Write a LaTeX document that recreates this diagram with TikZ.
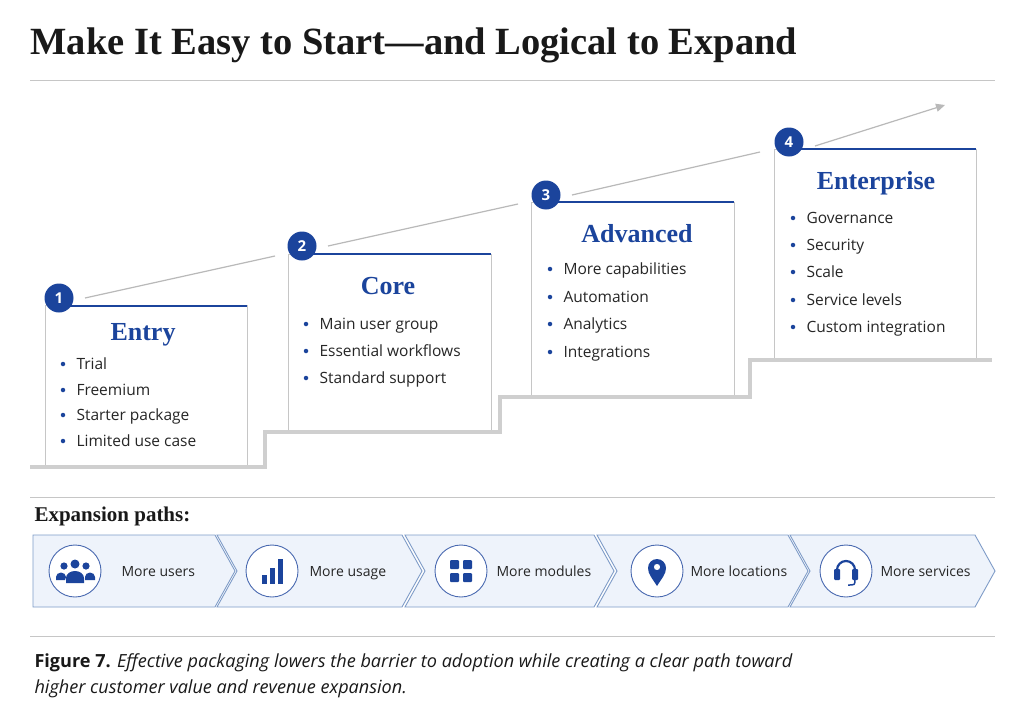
\documentclass[tikz,border=0pt]{standalone}
\usepackage{fontspec}
\setmainfont{Liberation Serif}
\setsansfont{Open Sans}
\usetikzlibrary{arrows.meta}
\definecolor{dblue}{HTML}{1B449C}
\definecolor{cfill}{HTML}{EEF3FB}
\definecolor{cline}{HTML}{7F9CC8}
\definecolor{gstair}{HTML}{CFCFCF}
\begin{document}
\begin{tikzpicture}[x=1pt,y=-1pt,
  box/.style={draw=gray!45,line width=0.8pt,fill=white},
  topbar/.style={dblue,line width=2.6pt},
  num/.style={circle,fill=dblue,text=white,minimum size=29pt,inner sep=0,font=\sffamily\bfseries\fontsize{15}{15}\selectfont},
  ttl/.style={text=dblue,font=\bfseries\fontsize{26}{26}\selectfont},
  itm/.style={anchor=base west,yshift=-5.5pt,font=\sffamily\fontsize{15.5}{16}\selectfont,text=black!85},
  dot/.style={circle,fill=dblue,inner sep=0,minimum size=4.5pt},
  trend/.style={gray!55,line width=1.2pt},
  chev/.style={draw=cline,fill=cfill,line width=0.9pt},
  icirc/.style={circle,draw=dblue!80,fill=white,line width=0.9pt,minimum size=52pt,inner sep=0},
  clab/.style={anchor=base west,yshift=-5pt,font=\sffamily\fontsize{14}{16}\selectfont,text=black!85},
  rule/.style={gray!45,line width=0.8pt}]
\useasboundingbox (0,0) rectangle (1024,725);
\fill[white] (0,0) rectangle (1024,725);
\node[anchor=west,font=\bfseries\fontsize{38.5}{38.5}\selectfont,text=black!90] (title) at (27,45) {Make It Easy to Start—and Logical to Expand};
\draw[rule] (30,80) -- (995,80);
% stairs
\draw[gstair,line width=4pt] (30,467) -- (265,467) -- (265,432) -- (500,432) -- (500,397) -- (750,397) -- (750,360) -- (992,360);
% boxes
\draw[box] (45,465) -- (45,305) -- (247,305) -- (247,465);
\draw[box] (288,430) -- (288,254) -- (491,254) -- (491,430);
\draw[box] (531,395) -- (531,202) -- (734,202) -- (734,395);
\draw[box] (774,358) -- (774,149) -- (976,149) -- (976,358);
\draw[topbar] (62,306) -- (247,306);
\draw[topbar] (305,254) -- (491,254);
\draw[topbar] (548,202) -- (734,202);
\draw[topbar] (791,149) -- (976,149);
\node[num] (n1) at (59,298) {1};
\node[num] (n2) at (302,246) {2};
\node[num] (n3) at (546,195) {3};
\node[num] (n4) at (789,142) {4};
\coordinate (e1) at (275,256);
\coordinate (e2) at (518,204);
\coordinate (e3) at (760,152);
\coordinate (e4) at (945,105);
\draw[trend] ([xshift=26pt]n1.center) -- (e1);
\draw[trend] ([xshift=26pt]n2.center) -- (e2);
\draw[trend] ([xshift=26pt]n3.center) -- (e3);
\draw[trend,-{Triangle[length=9pt,width=8pt]}] ([xshift=26pt,yshift=-4pt]n4.center) -- (e4);
\node[ttl] (t1) at (143,335) {Entry};
\node[ttl] (t2) at (388,286) {Core};
\node[ttl] (t3) at (637,234) {Advanced};
\node[ttl] (t4) at (876,183) {Enterprise};
\foreach \y/\s [count=\i] in {364/Trial,390/Freemium,415/Starter package,441/Limited use case}{
  \node[dot] (da\i) at (63,\y) {}; \node[itm] (ia\i) at (73,\y) {\s};}
\foreach \y/\s [count=\i] in {324/Main user group,351/Essential workflows,378/Standard support}{
  \node[dot] (db\i) at (306,\y) {}; \node[itm] (ib\i) at (316,\y) {\s};}
\foreach \y/\s [count=\i] in {269/More capabilities,297/Automation,324/Analytics,352/Integrations}{
  \node[dot] (dc\i) at (550,\y) {}; \node[itm] (ic\i) at (560,\y) {\s};}
\foreach \y/\s [count=\i] in {218/Governance,245/Security,272/Scale,300/Service levels,327/Custom integration}{
  \node[dot] (dd\i) at (793,\y) {}; \node[itm] (id\i) at (803,\y) {\s};}
\draw[rule] (30,497) -- (995,497);
\node[anchor=west,font=\bfseries\fontsize{21}{21}\selectfont,text=black!90] (ep) at (31,516) {Expansion paths:};
% chevrons
\draw[chev] (33,535) -- (215,535) -- (235,571) -- (215,607) -- (33,607) -- cycle;
\draw[chev] (217,535) -- (402,535) -- (422,571) -- (402,607) -- (217,607) -- (237,571) -- cycle;
\draw[chev] (405,535) -- (594,535) -- (614,571) -- (594,607) -- (405,607) -- (425,571) -- cycle;
\draw[chev] (597,535) -- (788,535) -- (808,571) -- (788,607) -- (597,607) -- (617,571) -- cycle;
\draw[chev] (790,535) -- (975,535) -- (995,571) -- (975,607) -- (790,607) -- (810,571) -- cycle;
\node[icirc] (c1) at (75,571) {};
\node[icirc] (c2) at (272,571) {};
\node[icirc] (c3) at (461,571) {};
\node[icirc] (c4) at (657,571) {};
\node[icirc] (c5) at (846,571) {};
\node[clab] (l1) at (118,571) {More users};
\node[clab] (l2) at (306,571) {More usage};
\node[clab] (l3) at (493,571) {More modules};
\node[clab] (l4) at (687,571) {More locations};
\node[clab] (l5) at (877,571) {More services};
% icons
\begin{scope}[fill=dblue]
 \fill (75,564) circle (4.5); \fill (64,566) circle (3.6); \fill (86,566) circle (3.6);
 \fill (66,583) -- (66,578) arc (180:360:9 and 7) -- (84,583) -- cycle;
 \fill (56,580) -- (56,577) arc (180:360:5 and 4.5) -- (65,580) -- cycle;
 \fill (85,580) -- (85,577) arc (180:360:5 and 4.5) -- (95,580) -- cycle;
 \fill (262,575) rectangle (267,584); \fill (270,568) rectangle (275,584); \fill (278,559) rectangle (283,584);
 \fill[rounded corners=1pt] (450,560) rectangle (459,569); \fill[rounded corners=1pt] (463,560) rectangle (472,569);
 \fill[rounded corners=1pt] (450,573) rectangle (459,582); \fill[rounded corners=1pt] (463,573) rectangle (472,582);
 \fill[even odd rule] (657,586) .. controls (652,578) and (648,574) .. (648,568) arc (180:360:9) .. controls (666,574) and (662,578) .. (657,586) -- cycle (657,567) circle (3.2);
\end{scope}
\draw[dblue,line width=2.2pt] (837,574) -- (837,570) arc (180:360:9) -- (855,574);
\fill[dblue,rounded corners=1pt] (834,569) rectangle (840,580);
\fill[dblue,rounded corners=1pt] (852,569) rectangle (858,580);
\draw[dblue,line width=1.5pt] (855,579) .. controls (855,585) .. (848,585);
\draw[rule] (30,636) -- (995,636);
\node[anchor=west,font=\sffamily\fontsize{18.1}{18}\selectfont,text=black!90] (cap1) at (31,663) {\textbf{Figure 7.} \itshape Effective packaging lowers the barrier to adoption while creating a clear path toward};
\node[anchor=west,font=\sffamily\itshape\fontsize{18.1}{18}\selectfont,text=black!90] (cap2) at (31,689) {higher customer value and revenue expansion.};
\end{tikzpicture}
\end{document}
